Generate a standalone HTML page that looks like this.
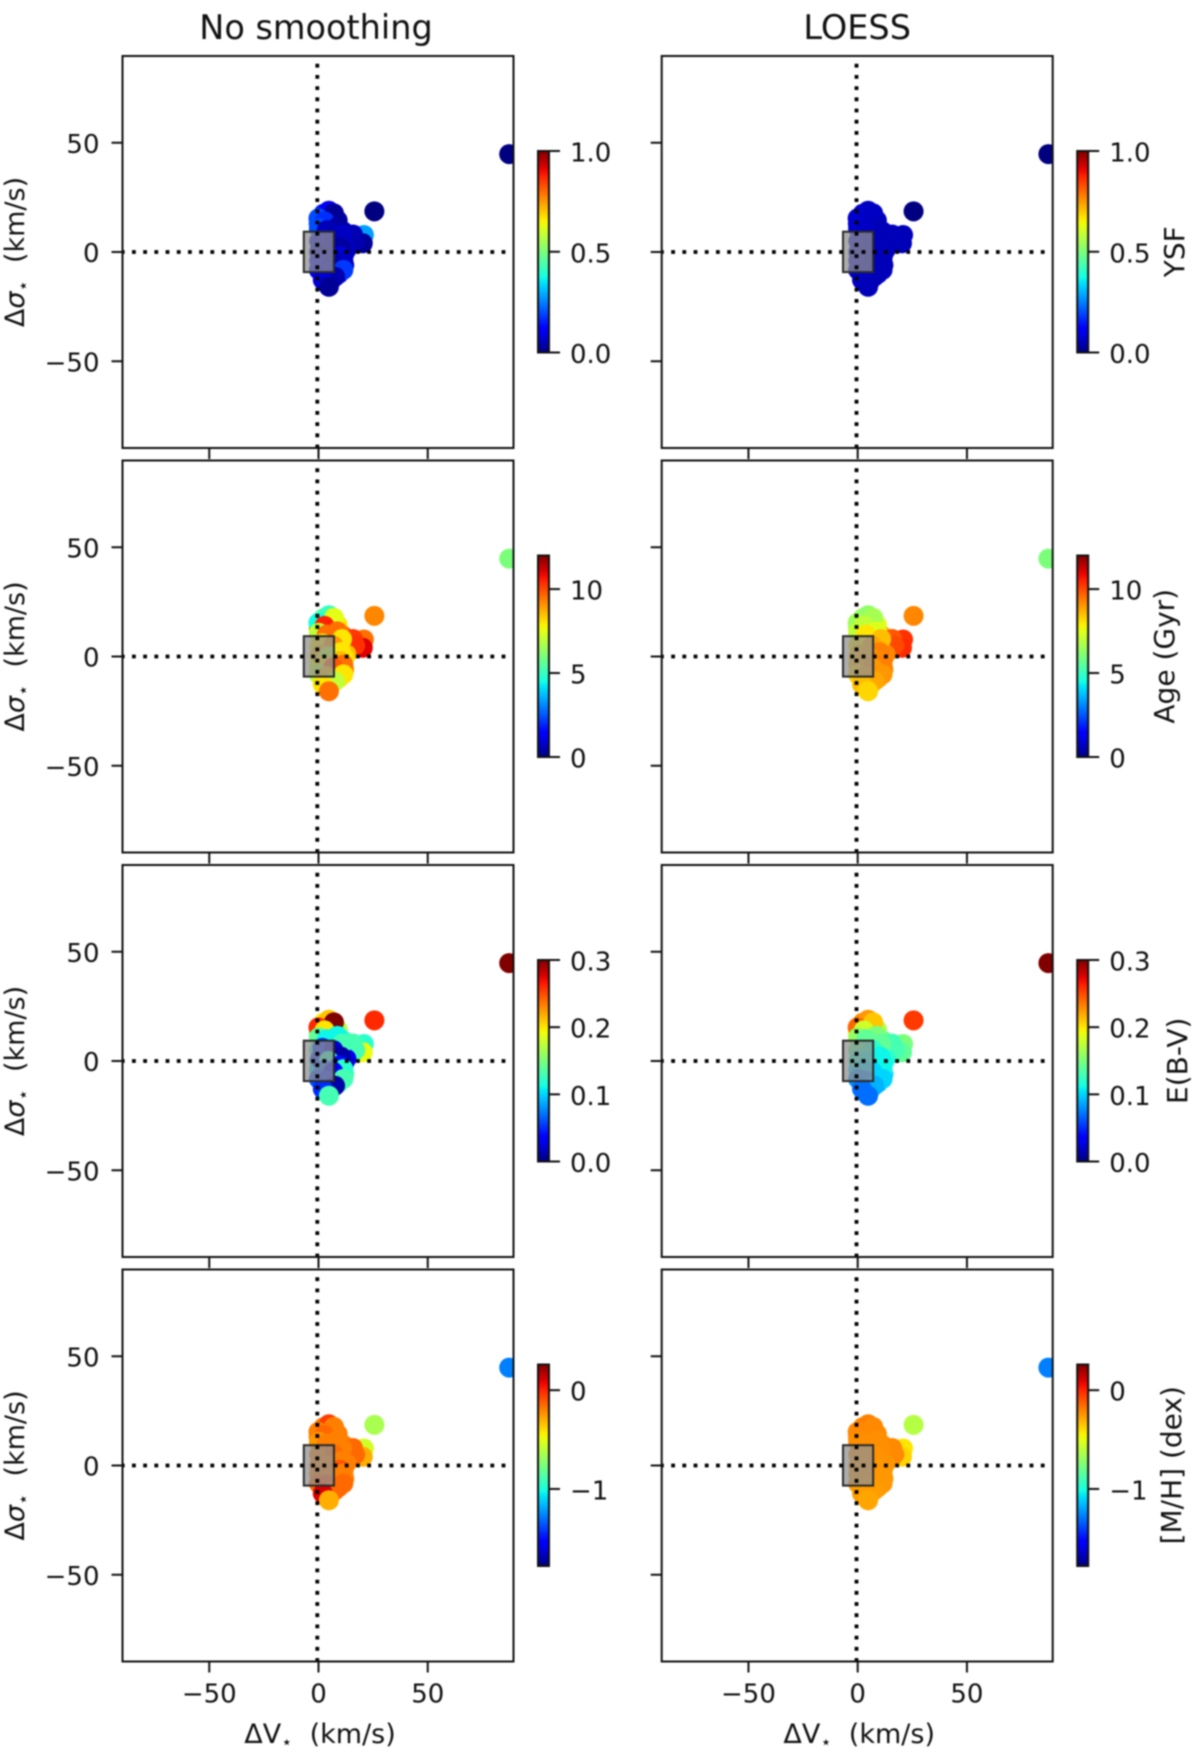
<!DOCTYPE html>
<html lang="en">
<head>
<meta charset="utf-8">
<title>Kinematic offsets scatter panels</title>
<style>
html,body{margin:0;padding:0;background:#fff;width:1200px;height:1761px;overflow:hidden}
svg{display:block;filter:blur(0.7px)}
text{font-family:"DejaVu Sans","Liberation Sans",sans-serif;fill:#111}
</style>
</head>
<body>
<svg id="chart" xmlns="http://www.w3.org/2000/svg" width="1200" height="1761" viewBox="0 0 1200 1761"></svg>
<script>
/* ---------- data ---------- */
const ptsX = [87.5,25.8,21,20.5,14.6,13, 2.5,0.3,5,9,6,2,11.5,7,16,17,10,0.5,5,13,0.5,3,8,12,0.5,12,8,2,9.5,6,3.5, 5,7.3,0.2,3,8.9,0.4,4,11,2,7,10.5,1,5,10,11.6,3,7,11.6,0.4,4,7.8,2.2,5];
const ptsY = [44.8,18.6,7.8,4,7,4.7, 17.5,13,16,14.5,14,10,9.5,8.5,8,5,5,5,4,1,0,-1,-1,-1,-4,-6,-8,-10,-10,-13,-14, 18.9,17.7,15.4,14,11.5,10.8,10,8,6,5,2,1,0,-2,-3.7,-4,-5,-8.2,-8.2,-9,-11.3,-12.8,-15.9];

const ysfRaw = [0,0,0.28,0.02,0.05,0.04, 0.15,0.2,0.04,0.03,0.05,0.08,0.05,0.05,0.05,0.04,0.04,0.08,0.05,0.05,0.08,0.06,0.04,0.05,0.1,0.05,0.05,0.08,0.1,0.05,0.05, 0.1,0.02,0.2,0.17,0.03,0.2,0.05,0.06,0.08,0.05,0.03,0.06,0.05,0.08,0.06,0.1,0.04,0.18,0.1,0.08,0.04,0.08,0.02];
const ageRaw = [6,9.2,9.5,11,10.5,10, 5.5,9,8.5,8,10,8,9.5,8.5,10.2,10.3,8,7.5,8,8.5,8,8,9,8,7.5,9,8.5,8,8,8,8, 5,7.5,4.5,10.5,9.5,7,9.5,8,8,9,8,8.5,7,8.5,9.5,8,9.8,8,7,8.5,7,8,9.5];
const ebvRaw = [0.32,0.26,0.12,0.19,0.12,0.12, 0.2,0.15,0.2,0.17,0.1,0.13,0.13,0.09,0.13,0.13,0.01,0.12,0.05,0.03,0.1,0.08,0.04,0.02,0.1,0.13,0.06,0.05,0.13,0.08,0.05, 0.21,0.31,0.26,0.2,0.11,0.14,0.11,0.13,0.05,0.02,0.01,0.05,0.12,0.04,0.12,0.07,0.03,0.13,0.06,0.05,0.01,0.05,0.13];
const mhRaw = [-1.27,-0.65,-0.55,-0.3,-0.1,-0.15, -0.2,-0.2,-0.15,-0.2,-0.15,-0.25,-0.2,-0.2,-0.15,-0.15,-0.2,-0.2,-0.2,-0.2,-0.2,-0.2,-0.2,-0.2,-0.2,-0.2,-0.2,-0.1,-0.2,-0.2,0.05, -0.05,-0.2,-0.2,-0.15,-0.2,-0.25,-0.2,-0.2,-0.2,-0.15,-0.2,-0.2,-0.2,-0.1,-0.2,-0.2,-0.2,-0.15,-0.15,-0.1,-0.15,0.1,-0.3];

const ysfLoess = [0,0,0.05,0.05,0.05,0.05, 0.07,0.07,0.06,0.05,0.06,0.06,0.05,0.05,0.05,0.05,0.05,0.06,0.05,0.05,0.06,0.05,0.05,0.05,0.06,0.05,0.05,0.06,0.05,0.06,0.06, 0.06,0.06,0.07,0.06,0.05,0.07,0.06,0.05,0.06,0.05,0.05,0.06,0.05,0.05,0.05,0.06,0.05,0.05,0.06,0.05,0.05,0.06,0.05];
const ageLoess = [6,9.2,10.3,10.4,10,9.8, 6.4,6.9,7,7.5,7.4,7.8,8.5,8.2,9.8,10,8.8,8,8.5,9.2,8.3,8.6,9,9.2,8.5,9.2,9,8.5,8.8,8.5,8.5, 6.3,6.6,6.5,7,7.4,7,8,8.5,8,8.8,9.3,8.5,8.8,9.2,9.3,8.8,9,9,8.3,8.8,8.8,8.5,8.2];
const ebvLoess = [0.32,0.255,0.15,0.14,0.13,0.13, 0.23,0.2,0.2,0.17,0.16,0.15,0.14,0.14,0.13,0.13,0.13,0.14,0.12,0.12,0.12,0.11,0.11,0.11,0.1,0.1,0.09,0.08,0.09,0.08,0.07, 0.225,0.21,0.24,0.18,0.15,0.16,0.14,0.14,0.14,0.12,0.11,0.12,0.11,0.11,0.11,0.1,0.1,0.1,0.08,0.08,0.09,0.07,0.07];
const mhLoess = [-1.27,-0.62,-0.42,-0.38,-0.22,-0.22, -0.22,-0.23,-0.22,-0.22,-0.23,-0.23,-0.23,-0.23,-0.22,-0.22,-0.23,-0.24,-0.24,-0.24,-0.24,-0.24,-0.25,-0.25,-0.25,-0.25,-0.25,-0.25,-0.26,-0.26,-0.26, -0.2,-0.22,-0.22,-0.22,-0.23,-0.23,-0.23,-0.23,-0.24,-0.24,-0.24,-0.24,-0.24,-0.25,-0.25,-0.25,-0.25,-0.25,-0.25,-0.26,-0.26,-0.26,-0.28];

const columnTitles = ["No smoothing","LOESS"];
const colorbarLabels = ["YSF","Age (Gyr)","E(B-V)","[M/H] (dex)"];
const colorMins = [0,0,0,-1.78];
const colorMaxs = [1,12,0.3,0.26];
const ysfTicks = [0,0.5,1];
const ysfTickLabels = ["0.0","0.5","1.0"];
const ageTicks = [0,5,10];
const ageTickLabels = ["0","5","10"];
const ebvTicks = [0,0.1,0.2,0.3];
const ebvTickLabels = ["0.0","0.1","0.2","0.3"];
const mhTicks = [-1,0];
const mhTickLabels = ["\u22121","0"];
const axisTicks = [-50,0,50];
const axisTickLabels = ["\u221250","0","50"];
const boxXRange = [-6.5,7.3];
const boxYRange = [-9.2,9.3];

/* ---------- layout and scales ---------- */
const NS = "http://www.w3.org/2000/svg";
const svg = document.getElementById("chart");
const colLeft = [122.5,661.7];
const panelW = 391;
const panelH = 392;
const rowTop = [56,460.5,865,1269.5];
const pxPerUnit = 2.185;
const xScale = (c,v)=>colLeft[c]+panelW/2+v*pxPerUnit;
const yScale = (r,v)=>rowTop[r]+panelH/2-v*pxPerUnit;

function jet(t){
  t=Math.max(0,Math.min(1,t));
  const lerp=(p,pts)=>{for(let i=1;i<pts.length;i++){if(p<=pts[i][0]){const a=pts[i-1],b=pts[i];return a[1]+(b[1]-a[1])*(p-a[0])/(b[0]-a[0]);}}return pts[pts.length-1][1];};
  const r=lerp(t,[[0,0],[0.35,0],[0.66,1],[0.89,1],[1,0.5]]);
  const g=lerp(t,[[0,0],[0.125,0],[0.375,1],[0.64,1],[0.91,0],[1,0]]);
  const b=lerp(t,[[0,0.5],[0.11,1],[0.34,1],[0.65,0],[1,0]]);
  return "rgb("+Math.round(r*255)+","+Math.round(g*255)+","+Math.round(b*255)+")";
}
function mk(tag,attrs,parent){
  const el=document.createElementNS(NS,tag);
  for(const k in attrs)el.setAttribute(k,attrs[k]);
  (parent||svg).appendChild(el);
  return el;
}
function label(x,y,str,size,anchor,parent){
  const t=mk("text",{x:x,y:y,"font-size":size,"text-anchor":anchor||"middle"},parent);
  t.textContent=str;
  return t;
}
function mathLabel(x,y,rot,symbol,italic,parent){
  const t=mk("text",{x:x,y:y,"font-size":27,"text-anchor":"middle",transform:rot?"rotate(-90 "+x+" "+y+")":""},parent);
  const a=mk("tspan",{},t);a.textContent="\u0394";
  const b=mk("tspan",{"font-style":italic?"italic":"normal"},t);b.textContent=symbol;
  const c=mk("tspan",{dy:5,"font-size":18},t);c.textContent="\u22C6";
  const d=mk("tspan",{dy:-5},t);d.textContent="\u00A0\u00A0(km/s)";
  return t;
}

const defs=mk("defs",{});
const rawSets=[ysfRaw,ageRaw,ebvRaw,mhRaw];
const loessSets=[ysfLoess,ageLoess,ebvLoess,mhLoess];
const tickSets=[ysfTicks,ageTicks,ebvTicks,mhTicks];
const tickLabelSets=[ysfTickLabels,ageTickLabels,ebvTickLabels,mhTickLabels];

/* gradient for the colour bars */
const grad=mk("linearGradient",{id:"jetGrad",x1:0,y1:1,x2:0,y2:0},defs);
for(let i=0;i<=40;i++){mk("stop",{offset:i/40,"stop-color":jet(i/40)},grad);}

/* column titles */
columnTitles.forEach((title,c)=>{
  const t=label(colLeft[c]+panelW/2+(c===0?-2:0),39,title,33.5);
  
  
});

for(let c=0;c<2;c++){
  for(let r=0;r<4;r++){
    const g=mk("g",{});
    
    
    const L=colLeft[c],T=rowTop[r];
    const clipId="clip"+c+"_"+r;
    const cp=mk("clipPath",{id:clipId},defs);
    mk("rect",{x:L,y:T,width:panelW,height:panelH},cp);

    /* scatter points */
    const vals=(c===0?rawSets:loessSets)[r];
    const lo=colorMins[r],hi=colorMaxs[r];
    const scatter=mk("g",{"clip-path":"url(#"+clipId+")"},g);
    
    
    ptsX.forEach((px,i)=>{
      const dot=mk("circle",{cx:xScale(c,px),cy:yScale(r,ptsY[i]),r:10,fill:jet((vals[i]-lo)/(hi-lo))},scatter);
      
      
    });

    /* grey box */
    const bx0=xScale(c,boxXRange[0]),bx1=xScale(c,boxXRange[1]),by0=yScale(r,boxYRange[1]),by1=yScale(r,boxYRange[0]);
    const box=mk("rect",{x:bx0,y:by0,width:bx1-bx0,height:by1-by0,fill:"#909090","fill-opacity":0.75,stroke:"#2a2a2a","stroke-width":2},g);
    
    

    /* dotted zero lines */
    const hl=mk("line",{x1:L-1.7,y1:yScale(r,0),x2:L+panelW,y2:yScale(r,0),stroke:"#000","stroke-width":3.8,"stroke-dasharray":"3.8 7.4","clip-path":"url(#"+clipId+")"},g);
    
    
    const vl=mk("line",{x1:xScale(c,0)-0.7,y1:T-3.4,x2:xScale(c,0)-0.7,y2:T+panelH,stroke:"#000","stroke-width":3.8,"stroke-dasharray":"3.8 7.4","clip-path":"url(#"+clipId+")"},g);
    
    

    /* frame */
    const frame=mk("rect",{x:L,y:T,width:panelW,height:panelH,fill:"none",stroke:"#111","stroke-width":2},g);
    
    

    /* ticks */
    axisTicks.forEach((v,i)=>{
      const yp=yScale(r,v);
      const yt=mk("line",{x1:L-11,y1:yp,x2:L,y2:yp,stroke:"#111","stroke-width":2},g);
      
      
      const xp=xScale(c,v)+0.5;
      const xt=mk("line",{x1:xp,y1:T+panelH,x2:xp,y2:T+panelH+11,stroke:"#111","stroke-width":2},g);
      
      
      if(c===0){
        const yl=label(L-23,yp+10,axisTickLabels[i],26,"end",g);
        
        
      }
      if(r===3){
        const xl=label(xp,T+panelH+41,axisTickLabels[i],26,"middle",g);
        
        
      }
    });

    /* axis labels */
    if(c===0){
      const yLab=mathLabel(24,T+panelH/2,true,"\u03C3",true,g);
      
      
    }
    if(r===3){
      const xLab=mathLabel(L+panelW/2+2,1743,false,"V",false,g);
      
      
    }

    /* colour bar */
    const cb=mk("g",{},g);
    
    
    const barX=L+panelW+24.5,barW=11,barT=T+95,barH=201.5;
    mk("rect",{x:barX,y:barT,width:barW,height:barH,fill:"url(#jetGrad)",stroke:"#111","stroke-width":2},cb);
    tickSets[r].forEach((v,i)=>{
      const yp=barT+barH-(v-lo)/(hi-lo)*barH;
      const tk=mk("line",{x1:barX+barW,y1:yp,x2:barX+barW+11,y2:yp,stroke:"#111","stroke-width":2},cb);
      
      
      const tl=label(barX+barW+21,yp+10.5,tickLabelSets[r][i],26,"start",cb);
      
      
    });
    if(c===1){
      const lx=[1184,1174,1187,1181][r],ly=barT+barH/2;
      const cl=mk("text",{x:lx,y:ly,"font-size":28,"text-anchor":"middle",transform:"rotate(-90 "+lx+" "+ly+")"},cb);
      cl.textContent=colorbarLabels[r];
      
      
    }
  }
}
</script>
</body>
</html>
